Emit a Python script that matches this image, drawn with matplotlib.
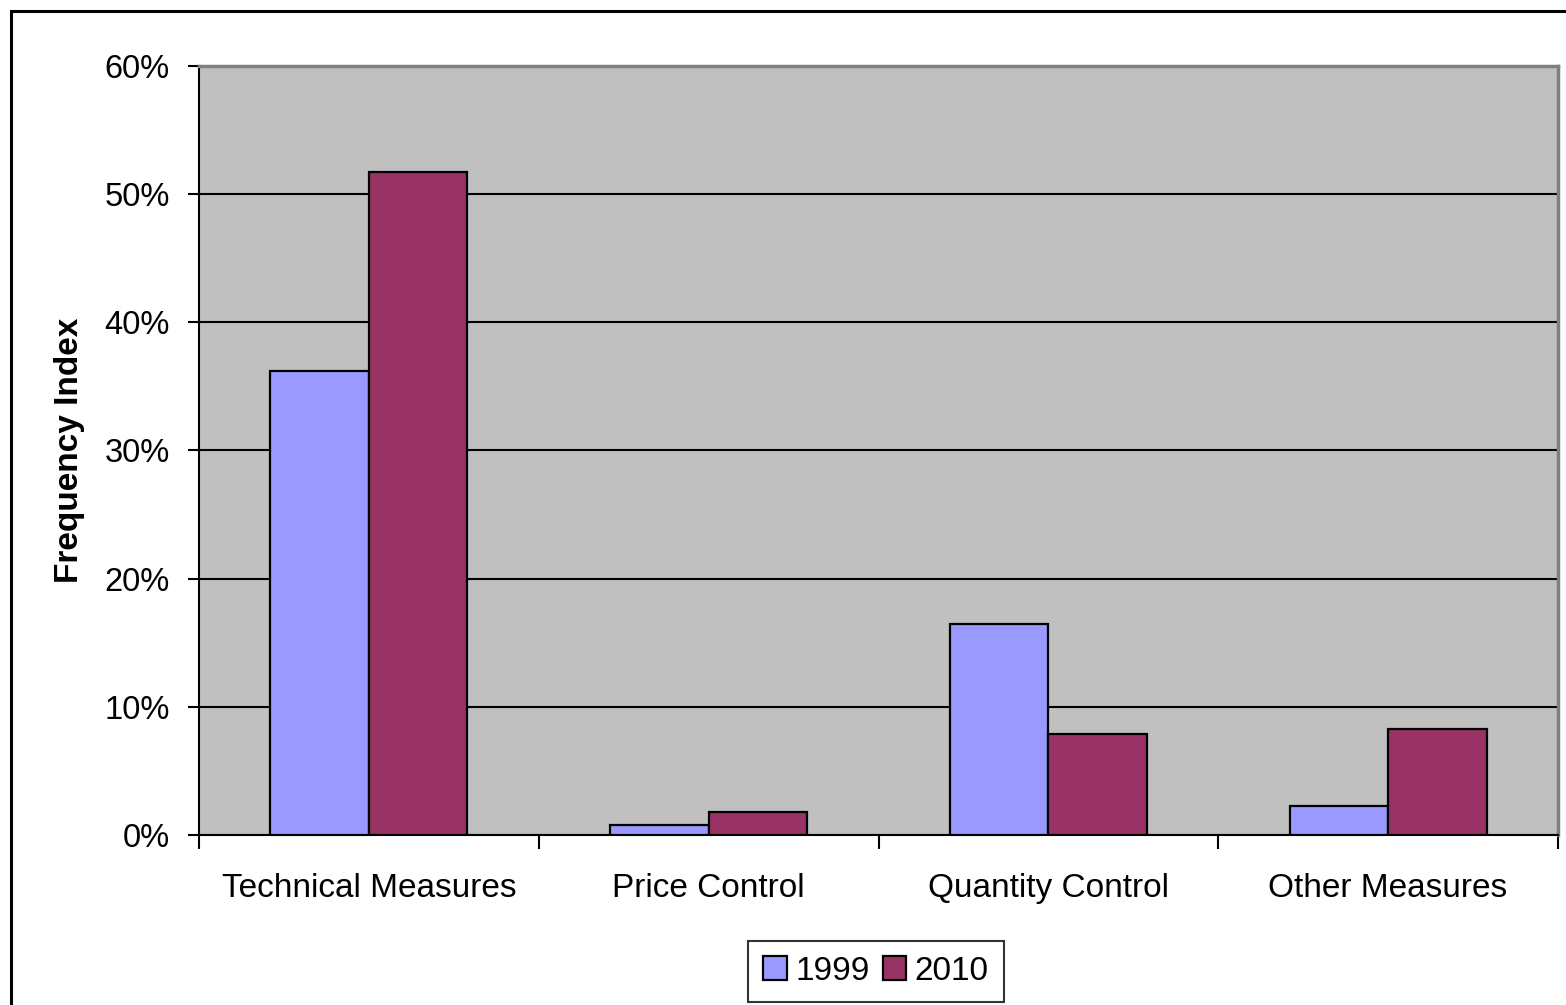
import numpy as np
import matplotlib.pyplot as plt
from matplotlib.patches import Rectangle
from matplotlib.ticker import FuncFormatter

categories = ['Technical Measures', 'Price Control', 'Quantity Control', 'Other Measures']
years = ['1999', '2010']
values_1999 = [36.2, 0.8, 16.5, 2.3]
values_2010 = [51.7, 1.8, 7.9, 8.3]

plt.rcParams['font.family'] = ['Liberation Sans', 'DejaVu Sans']

fig = plt.figure(figsize=(15.66, 10.05), dpi=100)
# outer chart frame
fig.patches.append(Rectangle((11 / 1566, -0.01), 1.02, 1 - 11 / 1005 + 0.01,
                             transform=fig.transFigure, fill=False,
                             edgecolor='black', linewidth=2.2))

ax = fig.add_axes([199 / 1566, 1 - 835 / 1005, (1558 - 199) / 1566, (835 - 66) / 1005])
ax.set_facecolor('#C0C0C0')

x = np.arange(len(categories))
w = 0.29
ax.bar(x - w / 2, values_1999, w, color='#9999FF', edgecolor='black', linewidth=1.6,
       label=years[0], zorder=3)
ax.bar(x + w / 2, values_2010, w, color='#993366', edgecolor='black', linewidth=1.6,
       label=years[1], zorder=3)

ax.set_xlim(-0.5, len(categories) - 0.5)
ax.set_ylim(0, 60)
ax.set_yticks(np.arange(0, 61, 10))
ax.yaxis.set_major_formatter(FuncFormatter(lambda v, p: f'{v:.0f}%'))
ax.grid(axis='y', color='black', linewidth=1.5, zorder=1)
ax.set_axisbelow(True)

ax.set_xticks(x)
ax.set_xticklabels(categories, fontsize=24)
ax.tick_params(axis='x', length=0, pad=27)
ax.set_xticks(np.arange(-0.5, len(categories), 1), minor=True)
ax.tick_params(axis='x', which='minor', length=10, width=1.5, direction='out')
ax.tick_params(axis='y', labelsize=23.5, length=8, width=1.5, direction='out', pad=13)

for s in ['left', 'bottom']:
    ax.spines[s].set_color('black')
    ax.spines[s].set_linewidth(1.5)
for s in ['top', 'right']:
    ax.spines[s].set_color('#808080')
    ax.spines[s].set_linewidth(2.5)

ax.set_ylabel('Frequency Index', fontsize=24, fontweight='bold', labelpad=14)

leg = fig.legend(loc='center', bbox_to_anchor=(876 / 1566, 1 - 971 / 1005), ncol=2,
                 fontsize=24, frameon=True, fancybox=False, edgecolor='black',
                 handlelength=0.7, handleheight=0.7, handletextpad=0.25,
                 columnspacing=0.4, borderpad=0.45, borderaxespad=0)
leg.get_frame().set_linewidth(1.5)

fig.savefig('out.png', dpi=100)
